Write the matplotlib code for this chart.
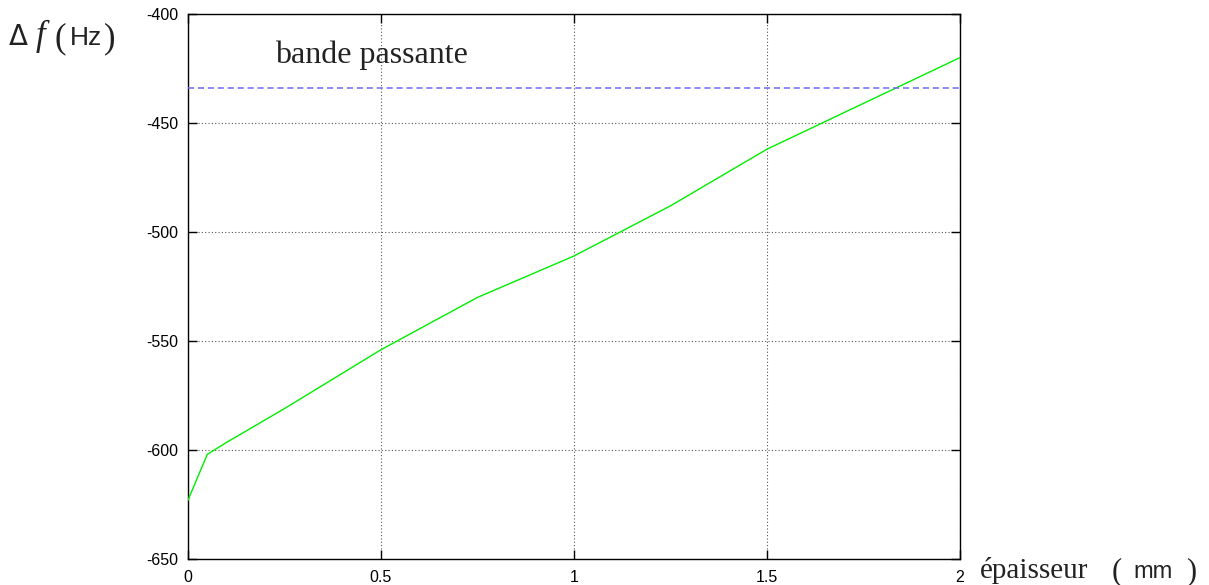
import matplotlib
matplotlib.use("Agg")
import matplotlib.pyplot as plt

# Data
epaisseur = [0, 0.05, 0.1, 0.25, 0.5, 0.75, 1.0, 1.25, 1.5, 2.0]
delta_f = [-623, -602, -596.5, -581, -554, -530, -511, -488, -462, -420]
bande_passante = -434
x_ticks = [0, 0.5, 1, 1.5, 2]
x_tick_labels = ["0", "0.5", "1", "1.5", "2"]
y_ticks = [-650, -600, -550, -500, -450, -400]
y_tick_labels = ["-650", "-600", "-550", "-500", "-450", "-400"]

W, H = 1209, 585
fig = plt.figure(figsize=(W / 100, H / 100), dpi=100)
ax = fig.add_axes([188 / W, 1 - 559 / H, (960 - 188) / W, (559 - 14) / H])

ax.plot(epaisseur, delta_f, color="#00ee00", lw=1.0, zorder=3)
ax.axhline(bande_passante, color="#6b6bf5", lw=1.1, ls=(0, (4, 2.5)), zorder=3)

ax.set_xlim(0, 2)
ax.set_ylim(-650, -400)
ax.set_xticks(x_ticks)
ax.set_xticklabels(x_tick_labels)
ax.set_yticks(y_ticks)
ax.set_yticklabels(y_tick_labels)

for lab in ax.get_xticklabels() + ax.get_yticklabels():
    lab.set_fontfamily("Liberation Sans")
    lab.set_fontsize(11.5)

ax.tick_params(direction="in", length=6.5, width=1.0, top=True, right=True)
ax.tick_params(axis="y", pad=7)
ax.tick_params(axis="x", pad=8)
ax.grid(True, color="#555555", ls=(0, (1, 2)), lw=0.8)
for s in ax.spines.values():
    s.set_linewidth(1.0)
    s.set_color("black")

ax.text(0.225, -422.5, "bande passante", fontfamily="Liberation Serif",
        fontsize=23, color="#222222", ha="left", va="baseline")

# label pieces (figure pixel coords)
def ftext(x, y, s, **kw):
    fig.text(x / W, 1 - y / H, s, va="baseline", ha="left", color="#222222", **kw)

ftext(9, 45, "Δ", fontfamily="DejaVu Sans", fontsize=20)
ftext(36, 45, "f", fontfamily="Liberation Serif", fontstyle="italic", fontsize=25)
ftext(54, 47, "(", fontfamily="Liberation Serif", fontsize=25)
ftext(70, 45, "Hz", fontfamily="Liberation Sans", fontsize=19)
ftext(104, 47, ")", fontfamily="Liberation Serif", fontsize=25)

ftext(980, 578, "épaisseur", fontfamily="Liberation Serif", fontsize=21)
ftext(1112, 579, "(", fontfamily="Liberation Serif", fontsize=22)
ftext(1133, 578, "mm", fontfamily="Liberation Sans", fontsize=17)
ftext(1186, 579, ")", fontfamily="Liberation Serif", fontsize=22)

fig.savefig("out.png", dpi=100)
